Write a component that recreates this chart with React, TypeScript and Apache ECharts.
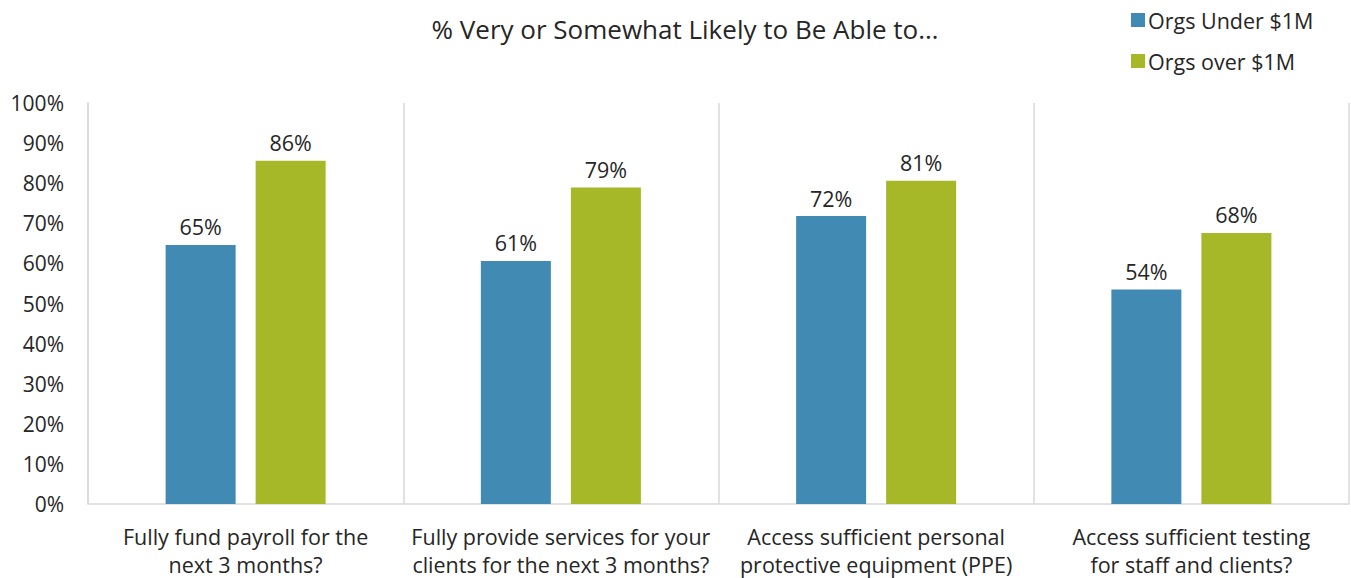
import React, { useEffect, useRef } from "react";
import * as echarts from "echarts";

const categories = [
  "Fully fund payroll for the\nnext 3 months?",
  "Fully provide services for your\nclients for the next 3 months?",
  "Access sufficient personal\nprotective equipment (PPE)",
  "Access sufficient testing\nfor staff and clients?",
];
const seriesNames = ["Orgs Under $1M", "Orgs over $1M"];
const under1M = [64.6, 60.6, 71.8, 53.5];
const over1M = [85.6, 78.9, 80.6, 67.6];
const title = "% Very or Somewhat Likely to Be Able to…";

const FONT = "'Open Sans', 'Noto Sans', sans-serif";
const TEXT = "#262626";

export default function App() {
  const ref = useRef<HTMLDivElement>(null);
  useEffect(() => {
    if (!ref.current) return;
    const chart = echarts.init(ref.current, undefined, { renderer: "svg" });
    const label = {
      show: true,
      position: "top" as const,
      distance: 7,
      fontFamily: FONT,
      fontSize: 21.5,
      color: TEXT,
      formatter: (p: any) => Math.round(p.value) + "%",
    };
    chart.setOption({
      animation: false,
      backgroundColor: "#fff",
      textStyle: { fontFamily: FONT },
      title: {
        text: title,
        left: 680,
        textAlign: "center",
        top: 11,
        textStyle: { fontFamily: FONT, fontSize: 26, fontWeight: "normal", color: TEXT },
      },
      legend: {
        orient: "vertical",
        left: 1126,
        top: 1,
        itemWidth: 14,
        itemHeight: 14,
        itemGap: 13,
        icon: "rect",
        textStyle: { fontFamily: FONT, fontSize: 21.5, color: TEXT, lineHeight: 28, padding: [0, 0, 0, -2] },
        data: seriesNames,
      },
      grid: { left: 88, right: 2, top: 103, bottom: 73, containLabel: false },
      xAxis: {
        type: "category",
        data: categories,
        axisLine: { show: true, lineStyle: { color: "#D9D9D9", width: 1.5 } },
        axisTick: { show: false },
        splitLine: { show: true, lineStyle: { color: "#D9D9D9", width: 1.5 } },
        axisLabel: {
          fontFamily: FONT,
          fontSize: 21.5,
          color: TEXT,
          lineHeight: 28,
          margin: 18,
          interval: 0,
        },
      },
      yAxis: {
        type: "value",
        min: 0,
        max: 100,
        interval: 10,
        axisLine: { show: true, lineStyle: { color: "#D9D9D9", width: 1.5 } },
        axisTick: { show: false },
        splitLine: { show: false },
        axisLabel: {
          fontFamily: FONT,
          fontSize: 21,
          color: TEXT,
          margin: 24,
          formatter: "{value}%",
        },
      },
      series: [
        {
          name: seriesNames[0],
          type: "bar",
          data: under1M,
          barWidth: 70,
          barGap: "28.6%",
          itemStyle: { color: "#418AB3" },
          label,
        },
        {
          name: seriesNames[1],
          type: "bar",
          data: over1M,
          barWidth: 70,
          itemStyle: { color: "#A6B727" },
          label,
        },
      ],
    });
    return () => chart.dispose();
  }, []);
  return (
    <div
      ref={ref}
      style={{ position: "fixed", left: 0, top: 0, width: 1351, height: 578 }}
    />
  );
}
